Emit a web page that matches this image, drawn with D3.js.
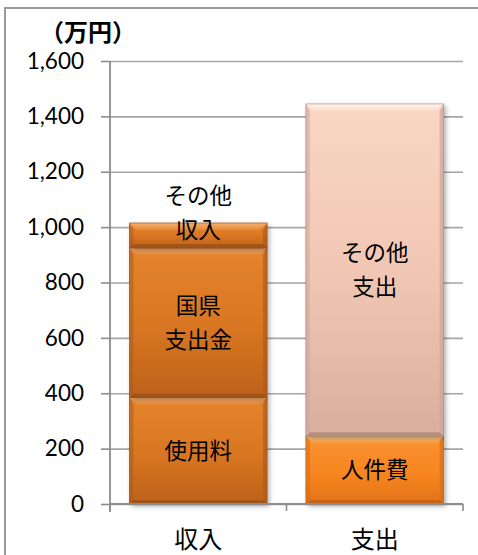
<!DOCTYPE html>
<html><head><meta charset="utf-8">
<script src="https://cdn.jsdelivr.net/npm/d3@7"></script>
<style>
html,body{margin:0;padding:0;background:#fff;}
svg{display:block;}
</style></head>
<body>
<script>
const categories = ["収入", "支出"];
const incomeItems = ["使用料", "国県\n支出金", "その他\n収入"];
const incomeValues = [385, 540, 90];
const expenseItems = ["人件費", "その他\n支出"];
const expenseValues = [245, 1200];
const yTicks = [0, 200, 400, 600, 800, 1000, 1200, 1400, 1600];
const unitLabel = "（万円）";

const W = 478, H = 555;
const svg = d3.select("body").append("svg").attr("width", W).attr("height", H);
const defs = svg.append("defs");

const y = d3.scaleLinear().domain([0, 1600]).range([504, 61]);
const x = d3.scaleBand().domain(categories).range([110, 463]).paddingInner(0.22).paddingOuter(0.11);

// outer border
svg.append("rect").attr("x", 5).attr("y", 8).attr("width", 500).attr("height", 600)
  .attr("fill", "none").attr("stroke", "#9a9a9a").attr("stroke-width", 2);

// gridlines
const grid = svg.append("g").attr("transform", "translate(110,0)")
  .call(d3.axisLeft(y).tickValues(yTicks).tickSize(-353).tickFormat(""));
grid.select(".domain").remove();
grid.selectAll("line").attr("stroke", "#a6a6a6").attr("stroke-width", 1.6);

// y axis
const ya = svg.append("g").attr("transform", "translate(110,0)")
  .call(d3.axisLeft(y).tickValues(yTicks).tickSize(9).tickPadding(17).tickFormat(d3.format(",")));
ya.select(".domain").attr("d", "M0,61V512").attr("stroke", "#8c8c8c").attr("stroke-width", 1.8);
ya.selectAll(".tick line").attr("stroke", "#8c8c8c").attr("stroke-width", 1.6);
ya.selectAll("text").attr("font-family", "Lato, 'Liberation Sans', sans-serif").attr("font-size", 22.5).attr("fill", "#000");

// unit label
svg.append("text").attr("x", 88).attr("y", 41).attr("text-anchor", "middle")
  .attr("font-family", "'Noto Sans CJK JP', sans-serif").attr("font-weight", "bold").attr("font-size", 24)
  .text(unitLabel);

// shadow filter
const f = defs.append("filter").attr("id", "shadow").attr("x", "-10%").attr("y", "-10%").attr("width", "130%").attr("height", "130%");
f.append("feDropShadow").attr("dx", 2).attr("dy", 2).attr("stdDeviation", 2.5).attr("flood-color", "#000").attr("flood-opacity", 0.35);

function grad(id, stops, x2, y2) {
  const g = defs.append("linearGradient").attr("id", id).attr("x1", 0).attr("y1", 0).attr("x2", x2 || 0).attr("y2", y2 === undefined ? 1 : y2);
  stops.forEach(s => g.append("stop").attr("offset", s[0]).attr("stop-color", s[1]));
}
const themes = {
  inc: { body: [["0", "#e4842e"], ["0.5", "#da7722"], ["1", "#bd621a"]], top: ["#f8b070", "#e48a38"], side: "#b05a18", bottom: "#9a4f15" },
  pers: { body: [["0", "#fb9333"], ["0.6", "#f5841f"], ["1", "#e2721a"]], top: ["#ffd090", "#fa9a3a"], side: "#d96e18", bottom: "#c0600f" },
  oth: { body: [["0", "#fad6c4"], ["0.5", "#f1c7b4"], ["1", "#d8ae9e"]], top: ["#fff6f0", "#fad9c8"], side: "#cfa595", bottom: "#a88678" }
};
Object.entries(themes).forEach(([k, t]) => {
  grad("body-" + k, t.body);
  grad("top-" + k, [["0", t.top[0]], ["1", t.top[1]]]);
});

const stacks = [
  { cat: categories[0], items: incomeItems, values: incomeValues, themes: ["inc", "inc", "inc"] },
  { cat: categories[1], items: expenseItems, values: expenseValues, themes: ["pers", "oth"] }
];

const bars = svg.append("g");
stacks.forEach(s => {
  let acc = 0;
  const bx = x(s.cat), bw = x.bandwidth();
  s.values.forEach((v, i) => {
    const y0 = y(acc), y1 = y(acc + v);
    acc += v;
    const th = themes[s.themes[i]], key = s.themes[i];
    const g = bars.append("g");
    const h = y0 - y1;
    const b = Math.min(7, h / 3);
    g.append("rect").attr("x", bx).attr("y", y1).attr("width", bw).attr("height", h)
      .attr("fill", `url(#body-${key})`).attr("filter", "url(#shadow)");
    g.append("polygon").attr("points", [[bx, y1], [bx + 4, y1 + b], [bx + 4, y0 - 4], [bx, y0]].join(" "))
      .attr("fill", th.side).attr("opacity", 0.55);
    g.append("polygon").attr("points", [[bx + bw, y1], [bx + bw - 4, y1 + b], [bx + bw - 4, y0 - 4], [bx + bw, y0]].join(" "))
      .attr("fill", th.side).attr("opacity", 0.7);
    g.append("polygon").attr("points", [[bx, y0], [bx + 4, y0 - 4], [bx + bw - 4, y0 - 4], [bx + bw, y0]].join(" "))
      .attr("fill", th.bottom).attr("opacity", 0.75);
    g.append("polygon").attr("points", [[bx, y1], [bx + bw, y1], [bx + bw - b, y1 + b], [bx + b, y1 + b]].join(" "))
      .attr("fill", `url(#top-${key})`);
    g.append("rect").attr("x", bx).attr("y", y1).attr("width", bw).attr("height", h)
      .attr("fill", "none").attr("stroke", th.bottom).attr("stroke-width", 0.8).attr("opacity", 0.8);
    const lines = s.items[i].split("\n");
    const lh = 34;
    let cy = (y0 + y1) / 2;
    if (v < 150) cy = y1 + 7 - (lines.length - 1) * lh / 2;
    const t = g.append("text").attr("text-anchor", "middle")
      .attr("font-family", "'Noto Sans CJK JP', sans-serif").attr("font-size", 22.5).attr("fill", "#000");
    lines.forEach((ln, j) => {
      t.append("tspan").attr("x", bx + bw / 2).attr("y", cy + (j - (lines.length - 1) / 2) * lh).attr("dy", "0.36em").text(ln);
    });
  });
});

// x axis
const r = x.range();
const bounds = [r[0], (r[0] + r[1]) / 2, r[1]];
svg.append("line").attr("x1", r[0]).attr("x2", r[1]).attr("y1", y(0)).attr("y2", y(0))
  .attr("stroke", "#8c8c8c").attr("stroke-width", 1.8);
svg.selectAll(".xt").data(bounds).enter().append("line")
  .attr("x1", d => d).attr("x2", d => d).attr("y1", y(0)).attr("y2", y(0) + 7)
  .attr("stroke", "#8c8c8c").attr("stroke-width", 1.6);
svg.selectAll(".xl").data(categories).enter().append("text")
  .attr("x", d => x(d) + x.bandwidth() / 2).attr("y", 539).attr("dy", "0.36em")
  .attr("text-anchor", "middle").attr("font-family", "'Noto Sans CJK JP', sans-serif")
  .attr("font-size", 24).attr("fill", "#000").text(d => d);
</script>
</body></html>
